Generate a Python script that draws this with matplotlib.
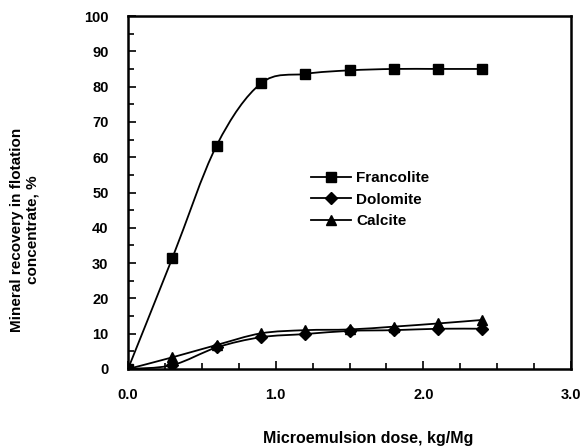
import numpy as np
import matplotlib
matplotlib.use("Agg")
import matplotlib.pyplot as plt
from matplotlib.path import Path
from matplotlib.patches import PathPatch
from matplotlib.ticker import MultipleLocator, FormatStrFormatter

plt.rcParams['font.family'] = ['Liberation Sans', 'DejaVu Sans']
plt.rcParams['font.weight'] = 'bold'

# data
dose = [0.0, 0.3, 0.6, 0.9, 1.2, 1.5, 1.8, 2.1, 2.4]
francolite = [0.0, 31.4, 63.3, 80.9, 83.6, 84.6, 85.0, 85.0, 85.0]
dolomite = [0.0, 1.1, 6.1, 9.0, 9.9, 10.8, 11.0, 11.4, 11.4]
calcite = [0.0, 3.3, 6.8, 10.1, 11.0, 11.2, 12.0, 12.9, 13.9]

series = [("Francolite", francolite, 's'),
          ("Dolomite", dolomite, 'D'),
          ("Calcite", calcite, '^')]


def smooth_path(x, y):
    # Excel-like smoothed line: cubic bezier segments through the points
    pts = np.column_stack([x, y])
    n = len(pts)
    verts = [pts[0]]
    codes = [Path.MOVETO]
    for i in range(n - 1):
        p0 = pts[max(i - 1, 0)]
        p1 = pts[i]
        p2 = pts[i + 1]
        p3 = pts[min(i + 2, n - 1)]
        c1 = p1 + (p2 - p0) / 6.0
        c2 = p2 - (p3 - p1) / 6.0
        verts += [c1, c2, p2]
        codes += [Path.CURVE4] * 3
    return Path(verts, codes)


W, H = 585, 447
L, R, T, B = 128, 571, 16, 369  # axes box in pixels
fig = plt.figure(figsize=(W / 100, H / 100), dpi=100)
ax = fig.add_axes([L / W, 1 - B / H, (R - L) / W, (B - T) / H])

for name, vals, mk in series:
    ax.add_patch(PathPatch(smooth_path(dose, vals), fill=False, lw=1.3,
                           edgecolor='black'))
    ms = 7 if mk != 'D' else 6
    ax.plot(dose, vals, linestyle='none', marker=mk, ms=ms, color='black')
    # proxy for the legend
    ax.plot([], [], '-', marker=mk, ms=ms, color='black', lw=1.3, label=name)

ax.set_xlim(0, 3.0)
ax.set_ylim(0, 100)
ax.xaxis.set_major_locator(MultipleLocator(1.0))
ax.xaxis.set_minor_locator(MultipleLocator(0.25))
ax.yaxis.set_major_locator(MultipleLocator(10))
ax.yaxis.set_minor_locator(MultipleLocator(5))
ax.xaxis.set_major_formatter(FormatStrFormatter('%.1f'))
ax.tick_params(which='both', direction='in', width=1.2, labelsize=10.5, pad=14)
ax.tick_params(which='major', length=6)
ax.tick_params(which='minor', length=4)
for s in ax.spines.values():
    s.set_linewidth(1.8)

ax.set_xlabel("Microemulsion dose, kg/Mg", fontsize=11.5, fontweight='bold')
ax.xaxis.label.set_va('center')
ax.xaxis.set_label_coords((368 - L) / (R - L), -(438 - B) / (B - T))
ax.set_ylabel("Mineral recovery in flotation\nconcentrate, %", fontsize=11,
              fontweight='bold', multialignment='center', linespacing=1.1)
ax.yaxis.label.set_va('center')
ax.yaxis.set_label_coords(-(L - 25) / (R - L), (B - 230) / (B - T))

leg = ax.legend(loc='upper left',
                bbox_to_anchor=((305 - L) / (R - L), (B - 165) / (B - T)),
                frameon=False, fontsize=11, handlelength=2.6,
                handletextpad=0.35, labelspacing=0.5, borderaxespad=0)

fig.savefig("out.png", dpi=100)
